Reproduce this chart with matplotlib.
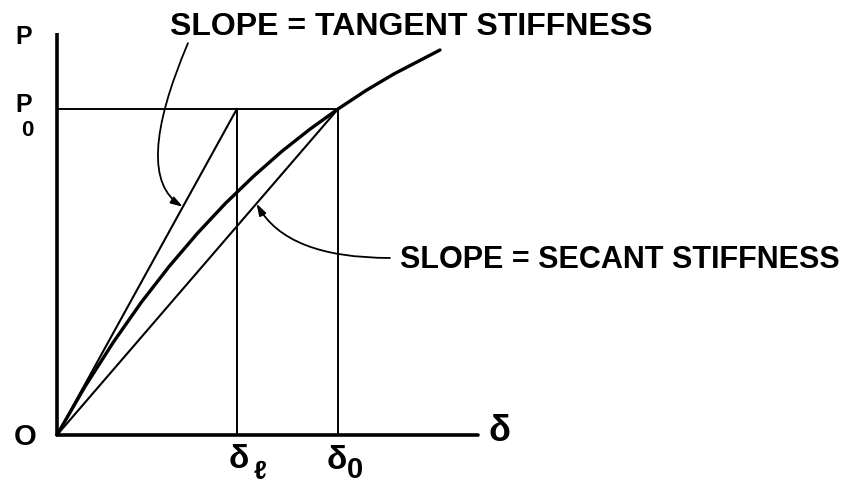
import matplotlib.pyplot as plt

plt.rcParams['font.family'] = ['Liberation Sans', 'DejaVu Sans']

# load-deflection curve (delta_o = 1, P_o = 1)
delta = [0.0, 0.1, 0.2, 0.3, 0.4, 0.5, 0.6, 0.7, 0.8, 0.9, 1.0, 1.1, 1.2, 1.363]
load = [0.0, 0.149, 0.284, 0.407, 0.518, 0.619, 0.711, 0.794, 0.870, 0.938, 1.0, 1.057, 1.108, 1.181]

delta_l = 0.64      # where the tangent line reaches P_o
delta_o = 1.0
P_o = 1.0
delta_max = 1.498   # end of the delta axis
P_max = 1.233       # top of the P axis

fig = plt.figure(figsize=(8.51, 4.88), dpi=100)
ax = fig.add_axes([0, 0, 1, 1])
ax.set_xlim(-0.2028, 2.8256)
ax.set_ylim(-0.1626, 1.3344)
ax.axis('off')

# axes
ax.plot([0, 0], [0, P_max], color='black', lw=2.6, solid_capstyle='butt')
ax.plot([0, delta_max], [0, 0], color='black', lw=2.6, solid_capstyle='round')

# construction lines
ax.plot([0, delta_o], [P_o, P_o], color='black', lw=1.4)
ax.plot([delta_l, delta_l], [0, P_o], color='black', lw=1.4)
ax.plot([delta_o, delta_o], [0, P_o], color='black', lw=1.4)
ax.plot([0, delta_l], [0, P_o], color='black', lw=1.5)   # tangent
ax.plot([0, delta_o], [0, P_o], color='black', lw=1.5)   # secant

# curve
ax.plot(delta, load, color='black', lw=2.4, solid_capstyle='round')

# leaders
arrow = dict(arrowstyle='-|>,head_length=0.7,head_width=0.22', color='black',
             lw=1.3, shrinkA=0, shrinkB=0, mutation_scale=10)
ax.annotate('', xy=(0.448, 0.70), xytext=(0.466, 1.202),
            arrowprops=dict(arrow, connectionstyle='angle3,angleA=67,angleB=-32'))
ax.annotate('', xy=(0.71, 0.71), xytext=(1.185, 0.543),
            arrowprops=dict(arrow, connectionstyle='angle3,angleA=0,angleB=-61'))

# labels
ax.text(0.402, 1.2515, 'SLOPE = TANGENT STIFFNESS', fontsize=23, fontweight='bold',
        ha='left', va='center')
ax.text(1.221, 0.537, 'SLOPE = SECANT STIFFNESS', fontsize=22, fontweight='bold',
        ha='left', va='center')

ax.text(-0.117, 1.221, 'P', fontsize=18, fontweight='bold', ha='center', va='center')
ax.text(-0.117, 1.012, 'P', fontsize=18, fontweight='bold', ha='center', va='center')
ax.text(-0.105, 0.935, '0', fontsize=16, fontweight='bold', ha='center', va='center')
ax.text(-0.114, -0.006, 'O', fontsize=21, fontweight='bold', ha='center', va='center')
ax.text(1.573, 0.012, 'δ', fontsize=26, fontweight='bold', ha='center', va='center')

ax.text(0.648, -0.074, 'δ', fontsize=24, fontweight='bold', ha='center', va='center')
ax.text(0.722, -0.112, 'ℓ', fontsize=19, fontweight='bold', ha='center', va='center')
ax.text(0.996, -0.077, 'δ', fontsize=24, fontweight='bold', ha='center', va='center')
ax.text(1.060, -0.108, '0', fontsize=21, fontweight='bold', ha='center', va='center')

fig.savefig('out.png', dpi=100, facecolor='white')
